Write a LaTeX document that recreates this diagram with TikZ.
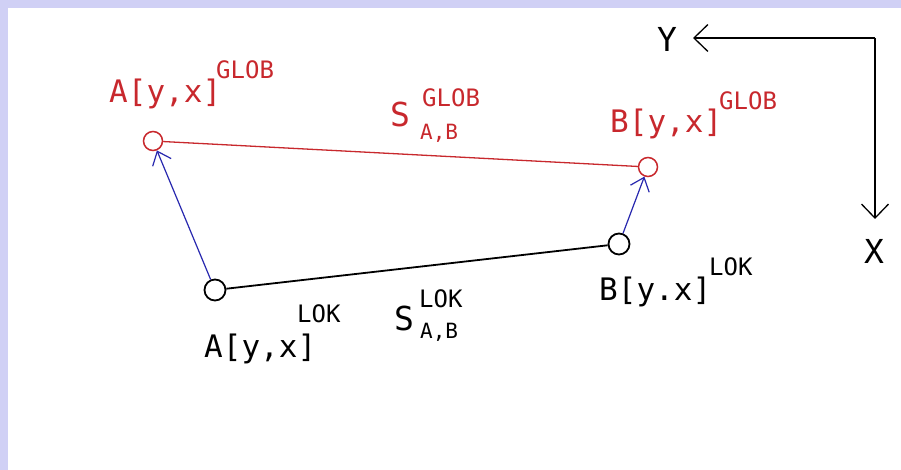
\documentclass[tikz,border=0pt]{standalone}
\usepackage{fontspec}
\usetikzlibrary{positioning, arrows.meta}
\newfontfamily\cadfont{DejaVu Sans Mono}
\definecolor{globred}{RGB}{200,40,45}
\definecolor{vecblue}{RGB}{40,40,175}
\definecolor{framelav}{RGB}{208,208,245}

\begin{document}
\begin{tikzpicture}[x=1pt, y=-1pt,
  pt/.style={draw, circle, minimum size=19pt, inner sep=0pt, line width=1.5pt},
  lokpt/.style={pt, minimum size=21pt, line width=1.8pt},
  lbl/.style={anchor=base west, inner sep=0pt, font=\cadfont\fontsize{31}{31}\selectfont},
  sup/.style={anchor=base west, inner sep=0pt, font=\cadfont\fontsize{24}{24}\selectfont},
  sub/.style={anchor=base west, inner sep=0pt, font=\cadfont\fontsize{21}{21}\selectfont},
  big/.style={anchor=base west, inner sep=0pt, font=\cadfont\fontsize{33}{33}\selectfont},
  vec/.style={vecblue, line width=1.2pt, -{Straight Barb[length=12pt, width=20pt]}},
  axis/.style={line width=1.3pt, -{Straight Barb[length=14pt, width=27pt]}}]

% frame: lavender band on top and left
\fill[white] (0,0) rectangle (901,470);
\fill[framelav] (0,0) rectangle (901,8);
\fill[framelav] (0,0) rectangle (8,470);
\useasboundingbox (0,0) rectangle (901,470);

% global points (red)
\node[pt, globred] (Ag) at (153,141) {};
\node[pt, globred] (Bg) at (648,167) {};
% local points (black)
\node[lokpt] (Al) at (215,290) {};
\node[lokpt] (Bl) at (619,244) {};

% distances
\draw[globred, line width=1.3pt] (Ag) -- (Bg);
\draw[line width=1.8pt] (Al) -- (Bl);

% transformation vectors
\draw[vec] (Al) -- (Ag);
\draw[vec] (Bl) -- (Bg);

% labels, global system
\node[lbl, globred] (tAg) at (109,103) {A[y,x]};
\node[sup, globred] (tAgs) at (216,79) {GLOB};
\node[big, globred] (tSg) at (390,127) {S};
\node[sup, globred] (tSgs) at (422,107) {GLOB};
\node[sub, globred] (tSgi) at (420,140) {A,B};
\node[lbl, globred] (tBg) at (610,133) {B[y,x]};
\node[sup, globred] (tBgs) at (719,110) {GLOB};

% labels, local system
\node[sup] (tAls) at (297,322) {LOK};
\node[lbl] (tAl) at (204,357) {A[y,x]};
\node[big] (tSl) at (394,330) {S};
\node[sup] (tSls) at (419,307) {LOK};
\node[sub] (tSli) at (420,338) {A,B};
\node[lbl] (tBl) at (599,300) {B[y.x]};
\node[sup] (tBls) at (709,275) {LOK};

% axes
\coordinate (O) at (875,38);
\coordinate (Yend) at (693,38);
\coordinate (Xend) at (875,219);
\draw[axis] (O) -- (Yend);
\draw[axis] (O) -- (Xend);
\node[big] (tY) at (657,52) {Y};
\node[big] (tX) at (864,263) {X};
\end{tikzpicture}
\end{document}
